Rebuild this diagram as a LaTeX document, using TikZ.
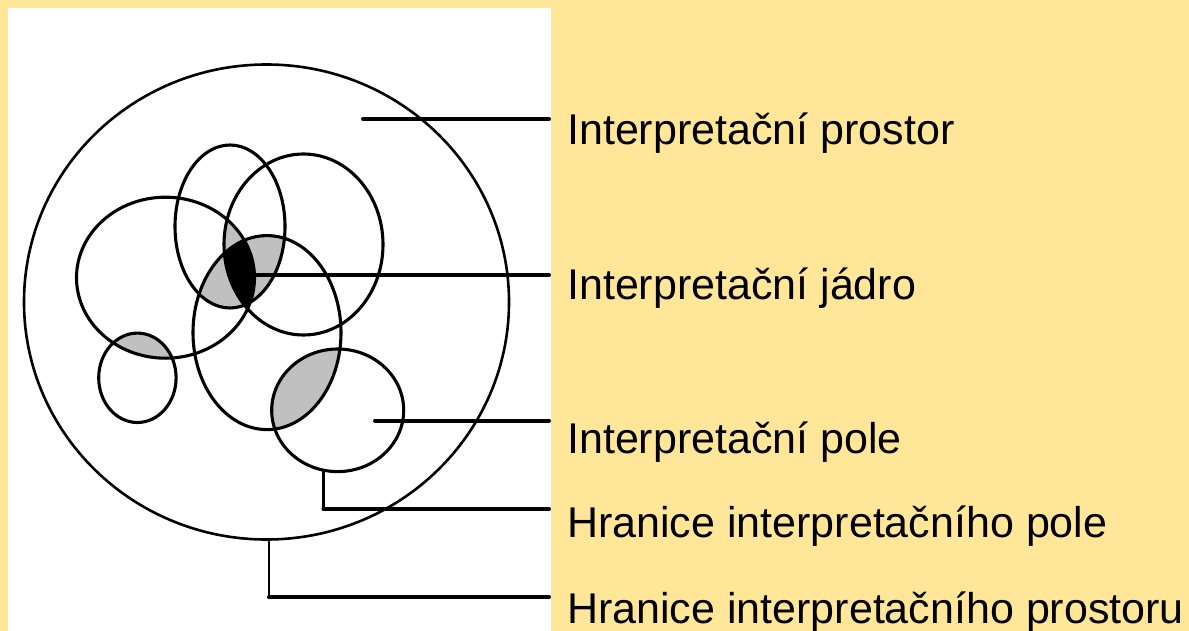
\documentclass[tikz,border=0pt]{standalone}
\usepackage{fontspec}
\setmainfont{Liberation Sans}
\usetikzlibrary{positioning}

\definecolor{paper}{RGB}{255,230,153}
\definecolor{overlap}{RGB}{192,192,192}

% outlines of the space and of the fields
\newcommand{\prostorring}{(266.5,302) ellipse [x radius=242.5pt, y radius=237.5pt]}
\newcommand{\fieldA}{(165.5,277.7) ellipse [x radius=89pt, y radius=80.5pt]}
\newcommand{\fieldB}{(230,226.5) ellipse [x radius=55pt, y radius=81.5pt]}
\newcommand{\fieldC}{(303.5,244.5) ellipse [x radius=79.5pt, y radius=90.5pt]}
\newcommand{\fieldD}{(267,332.6) ellipse [x radius=74pt, y radius=97pt]}
\newcommand{\fieldE}{(137.4,377.8) ellipse [x radius=38.7pt, y radius=44.7pt]}
\newcommand{\fieldF}{(337.7,410.3) ellipse [x radius=66pt, y radius=61.3pt]}

\begin{document}
\begin{tikzpicture}[x=1pt,y=-1pt,
  ring/.style={line width=3.1pt},
  leader/.style={line width=4pt,line cap=round},
  stub/.style={line width=2.6pt,line cap=rect},
  caption/.style={anchor=base west,inner sep=0pt,font=\fontsize{43}{50}\selectfont}]
  \useasboundingbox (0,0) rectangle (1189,631);
  \fill[paper] (0,0) rectangle (1189,631);
  \fill[white] (8,8) rectangle (551,631);

  % shaded overlaps
  \foreach \p/\q/\r in {\fieldA/\fieldB/\fieldC,\fieldA/\fieldB/\fieldD,
                        \fieldA/\fieldC/\fieldD,\fieldB/\fieldC/\fieldD}{
    \begin{scope}
      \clip \p; \clip \q;
      \fill[overlap] \r;
    \end{scope}
  }
  \begin{scope}
    \clip \fieldA; \fill[overlap] \fieldE;
  \end{scope}
  \begin{scope}
    \clip \fieldD; \fill[overlap] \fieldF;
  \end{scope}
  \begin{scope}
    \clip \fieldA; \clip \fieldB; \clip \fieldC;
    \fill[black] \fieldD;
  \end{scope}

  \draw[ring,line width=2.6pt] \prostorring;
  \foreach \f in {\fieldA,\fieldB,\fieldC,\fieldD,\fieldE,\fieldF}
    \draw[ring] \f;

  % labels
  \node[caption] (prostor) at (567,145) {Interpretační prostor};
  \node[caption] (jadro) at (567,299) {Interpretační jádro};
  \node[caption] (pole) at (567,453) {Interpretační pole};
  \node[caption] (hranicepole) at (567,537) {Hranice interpretačního pole};
  \node[caption] (hraniceprostor) at (567,623) {Hranice interpretačního prostoru};

  % where the leaders start and end
  \coordinate (prostorin) at (363,119);
  \coordinate (jadroin) at (257,275);
  \coordinate (polein) at (375,420.5);
  \coordinate (polerim) at (323.4,471);
  \coordinate (prostorrim) at (269,539);
  \coordinate (prostorend) at (549,119);
  \coordinate (jadroend) at (549,275);
  \coordinate (poleend) at (549,420.5);
  \coordinate (hranicepoleend) at (549,509);
  \coordinate (hraniceprostorend) at (549,597);

  \draw[leader] (prostorin) -- (prostorend);
  \draw[leader] (jadroin) -- (jadroend);
  \draw[leader] (polein) -- (poleend);
  \draw[stub] (polerim) -- (polerim |- hranicepoleend);
  \draw[leader] (polerim |- hranicepoleend) -- (hranicepoleend);
  \draw[stub] (prostorrim) -- (prostorrim |- hraniceprostorend);
  \draw[leader] (prostorrim |- hraniceprostorend) -- (hraniceprostorend);
\end{tikzpicture}
\end{document}
